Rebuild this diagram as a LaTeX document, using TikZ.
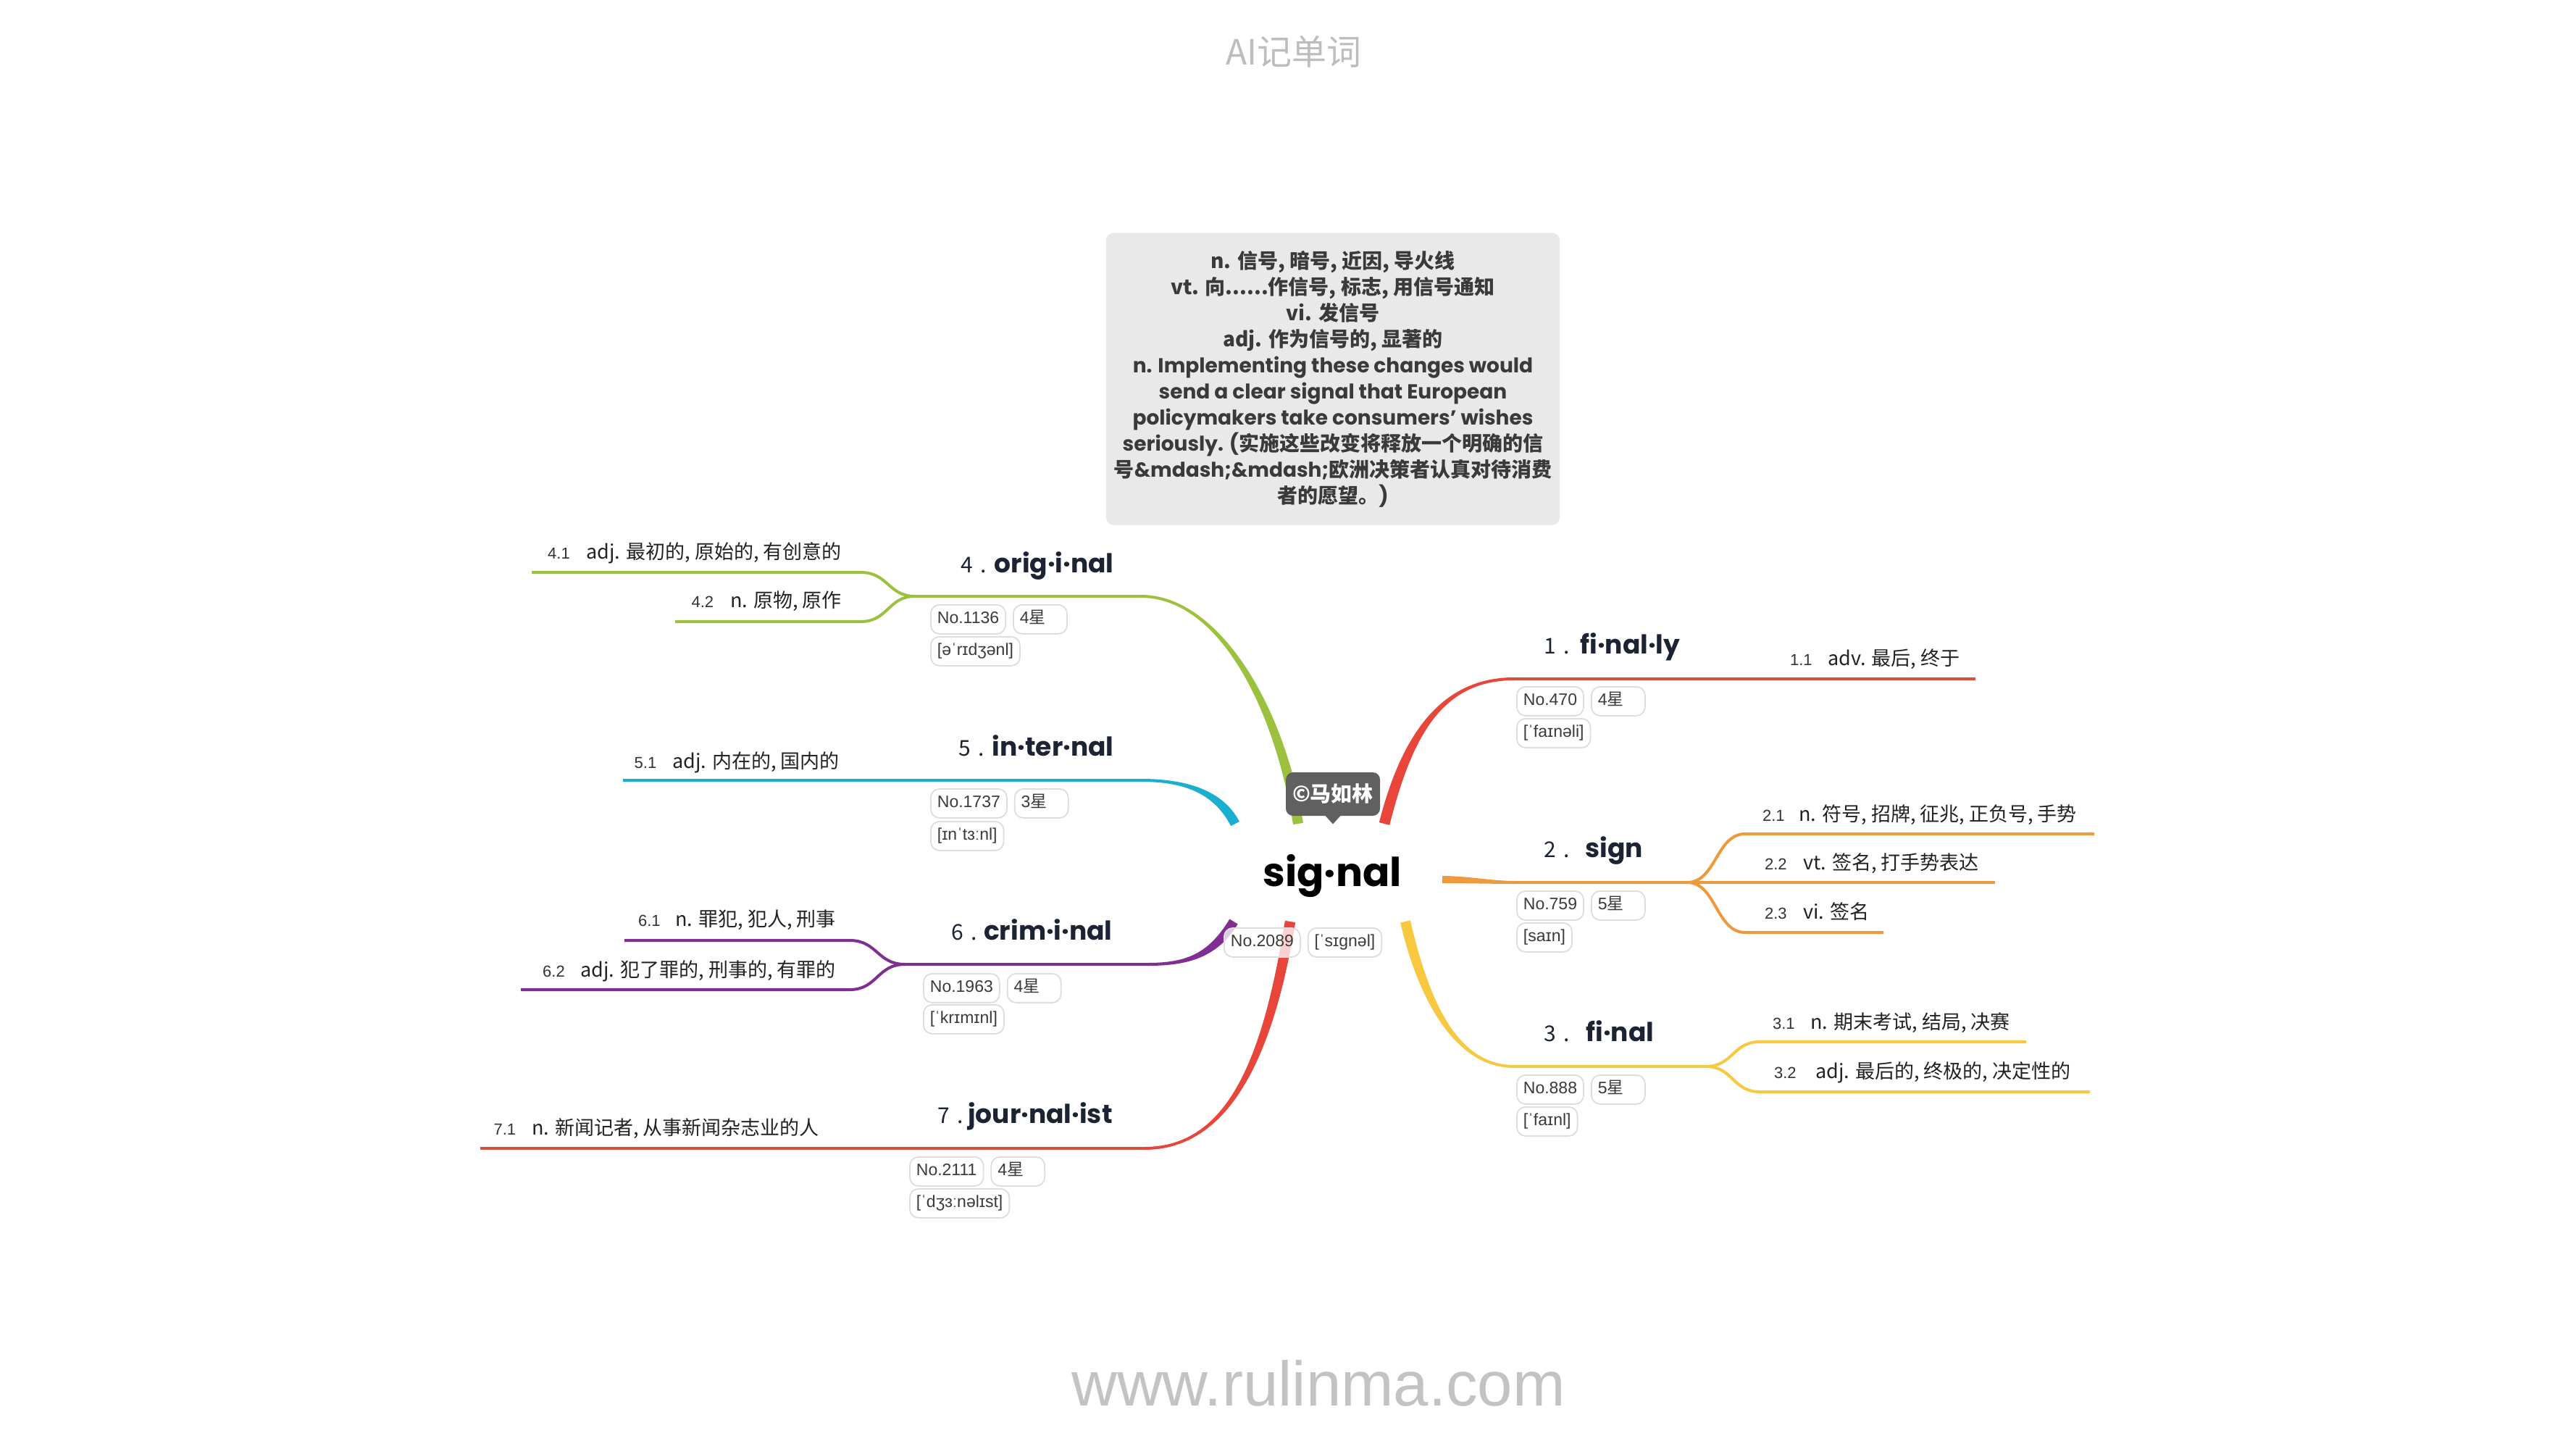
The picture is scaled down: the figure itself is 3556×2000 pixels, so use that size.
\documentclass[tikz,border=0pt]{standalone}
\usepackage{fontspec}
\setmainfont{Liberation Sans}
\newfontfamily\cjk{Noto Sans CJK SC}
\newfontfamily\pop{Poppins}
\usetikzlibrary{calc}
\definecolor{cG}{HTML}{9CC13F}
\definecolor{cC}{HTML}{1AAED0}
\definecolor{cP}{HTML}{7F2F91}
\definecolor{cR}{HTML}{E8453B}
\definecolor{cRh}{HTML}{D6503F}
\definecolor{cO}{HTML}{F0993B}
\definecolor{cY}{HTML}{F7C840}
\definecolor{boxc}{HTML}{E9E9E9}
\definecolor{callc}{HTML}{606060}
\definecolor{pillc}{HTML}{DDDDDD}
\definecolor{txtc}{HTML}{3A3A3A}
\definecolor{subc}{HTML}{222222}
\definecolor{numc}{HTML}{333333}
\definecolor{headc}{HTML}{1C2333}
\definecolor{titlec}{HTML}{BDBDBD}
\definecolor{wmc}{HTML}{C3C3C3}
\newcommand\brtaper[7]{%
  \fill[#1] ($#2!#6!90:#3$) .. controls ($#3!#6!-90:#2$) and ($#4!#7!90:#5$) .. ($#5!#7!-90:#4$)
    -- ($#5!#7!90:#4$) .. controls ($#4!#7!-90:#5$) and ($#3!#6!90:#2$) .. ($#2!#6!-90:#3$) -- cycle;}
\newcommand\zh[1]{{\cjk\bfseries #1}}
\begin{document}
\begin{tikzpicture}[x=0.5pt,y=-0.5pt,
  ln/.style={line width=2pt},
  pill/.style={draw=pillc, line width=0.9pt, fill=white, rounded corners=6pt,
    minimum height=20pt, inner xsep=4.5pt, inner ysep=0pt, text height=8.5pt, text depth=2.5pt,
    font=\fontsize{11.5}{12}\selectfont, text=txtc, anchor=north west},
  starpill/.style={pill, anchor=west, text width=28pt, align=left},
  subtext/.style={font=\cjk\fontsize{13.5}{14}\selectfont, text=subc, inner sep=0pt},
  subnum/.style={font=\fontsize{11}{12}\selectfont, text=numc, inner sep=0pt},
  headword/.style={font=\pop\bfseries\fontsize{18}{19}\selectfont, text=headc, inner sep=0pt},
  headnum/.style={font=\cjk\fontsize{15}{16}\selectfont, text=headc, inner sep=0pt}]
\useasboundingbox (0,0) rectangle (3556,2000);
\fill[white] (0,0) rectangle (3556,2000);

% ---------- coordinates ----------
\coordinate (c4) at (1792,1137); \coordinate (k4a) at (1765,970); \coordinate (k4b) at (1680,823);
\coordinate (h4) at (1575,823); \coordinate (j4) at (1263,823);
\coordinate (s41) at (1188,790); \coordinate (e41) at (734,790);
\coordinate (s42) at (1188,858); \coordinate (e42) at (932,858);

\coordinate (c5) at (1705,1137); \coordinate (k5a) at (1683,1095); \coordinate (k5b) at (1640,1077);
\coordinate (h5) at (1575,1077); \coordinate (e51) at (860,1077);

\coordinate (c6) at (1703,1272); \coordinate (k6a) at (1675,1318); \coordinate (k6b) at (1640,1331);
\coordinate (h6) at (1585,1331); \coordinate (j6) at (1249,1331);
\coordinate (s61) at (1173,1298); \coordinate (e61) at (862,1298);
\coordinate (s62) at (1173,1366); \coordinate (e62) at (719,1366);

\coordinate (c7) at (1781,1272); \coordinate (k7a) at (1752,1450); \coordinate (k7b) at (1700,1585);
\coordinate (h7) at (1580,1585); \coordinate (e71) at (663,1585);

\coordinate (c1) at (1911,1137); \coordinate (k1a) at (1942,1015); \coordinate (k1b) at (1990,937);
\coordinate (h1) at (2090,937); \coordinate (e11) at (2727,937);

\coordinate (c2) at (1991,1214); \coordinate (k2a) at (2025,1214); \coordinate (k2b) at (2060,1218);
\coordinate (h2) at (2092,1218); \coordinate (j2) at (2329,1218);
\coordinate (s21) at (2409,1151); \coordinate (e21) at (2891,1151);
\coordinate (e22) at (2754,1218);
\coordinate (s23) at (2409,1287); \coordinate (e23) at (2600,1287);

\coordinate (c3) at (1940,1272); \coordinate (k3a) at (1965,1380); \coordinate (k3b) at (2010,1472);
\coordinate (h3) at (2090,1472); \coordinate (j3) at (2355,1472);
\coordinate (s31) at (2429,1438); \coordinate (e31) at (2797,1438);
\coordinate (s32) at (2429,1507); \coordinate (e32) at (2885,1507);

% ---------- branches ----------
\brtaper{cG}{(c4)}{(k4a)}{(k4b)}{(h4)}{3.5pt}{1pt}
\draw[ln,cG] (h4) -- (j4);
\draw[ln,cG] (j4) .. controls (1226,823) and (1226,790) .. (s41) -- (e41);
\draw[ln,cG] (j4) .. controls (1226,823) and (1226,858) .. (s42) -- (e42);

\brtaper{cC}{(c5)}{(k5a)}{(k5b)}{(h5)}{3.3pt}{1pt}
\draw[ln,cC] (h5) -- (e51);

\brtaper{cP}{(c6)}{(k6a)}{(k6b)}{(h6)}{3.3pt}{1pt}
\draw[ln,cP] (h6) -- (j6);
\draw[ln,cP] (j6) .. controls (1211,1331) and (1211,1298) .. (s61) -- (e61);
\draw[ln,cP] (j6) .. controls (1211,1331) and (1211,1366) .. (s62) -- (e62);

\brtaper{cR}{(c7)}{(k7a)}{(k7b)}{(h7)}{3.6pt}{1pt}
\draw[ln,cRh] (h7) -- (e71);

\brtaper{cR}{(c1)}{(k1a)}{(k1b)}{(h1)}{3.7pt}{1pt}
\draw[ln,cRh] (h1) -- (e11);

\brtaper{cO}{(c2)}{(k2a)}{(k2b)}{(h2)}{2.5pt}{1pt}
\draw[ln,cO] (h2) -- (j2);
\draw[ln,cO] (j2) .. controls (2369,1218) and (2369,1151) .. (s21) -- (e21);
\draw[ln,cO] (j2) -- (e22);
\draw[ln,cO] (j2) .. controls (2369,1218) and (2369,1287) .. (s23) -- (e23);

\brtaper{cY}{(c3)}{(k3a)}{(k3b)}{(h3)}{3.5pt}{1pt}
\draw[ln,cY] (h3) -- (j3);
\draw[ln,cY] (j3) .. controls (2392,1472) and (2392,1438) .. (s31) -- (e31);
\draw[ln,cY] (j3) .. controls (2392,1472) and (2392,1507) .. (s32) -- (e32);

% ---------- sub texts (left) ----------
\node[subtext, anchor=east] (t41) at (1162,763) {adj. 最初的, 原始的, 有创意的};
\node[subnum, anchor=base east] (n41) at ($(t41.base west)+(-22,0)$) {4.1};
\node[subtext, anchor=east] (t42) at (1162,830) {n. 原物, 原作};
\node[subnum, anchor=base east] (n42) at ($(t42.base west)+(-22,0)$) {4.2};
\node[subtext, anchor=east] (t51) at (1159,1052) {adj. 内在的, 国内的};
\node[subnum, anchor=base east] (n51) at ($(t51.base west)+(-21,0)$) {5.1};
\node[subtext, anchor=east] (t61) at (1154,1270) {n. 罪犯, 犯人, 刑事};
\node[subnum, anchor=base east] (n61) at ($(t61.base west)+(-20,0)$) {6.1};
\node[subtext, anchor=east] (t62) at (1154,1340) {adj. 犯了罪的, 刑事的, 有罪的};
\node[subnum, anchor=base east] (n62) at ($(t62.base west)+(-21,0)$) {6.2};
\node[subtext, anchor=east] (t71) at (1131,1558) {n. 新闻记者, 从事新闻杂志业的人};
\node[subnum, anchor=base east] (n71) at ($(t71.base west)+(-21,0)$) {7.1};

% ---------- sub texts (right) ----------
\node[subtext, anchor=west] (t11) at (2523,910) {adv. 最后, 终于};
\node[subnum, anchor=base east] (n11) at ($(t11.base west)+(-21,0)$) {1.1};
\node[subtext, anchor=west] (t21) at (2483,1125) {n. 符号, 招牌, 征兆, 正负号, 手势};
\node[subnum, anchor=base east] (n21) at ($(t21.base west)+(-19,0)$) {2.1};
\node[subtext, anchor=west] (t22) at (2489,1192) {vt. 签名, 打手势表达};
\node[subnum, anchor=base east] (n22) at ($(t22.base west)+(-22,0)$) {2.2};
\node[subtext, anchor=west] (t23) at (2489,1258) {vi. 签名};
\node[subnum, anchor=base east] (n23) at ($(t23.base west)+(-22,0)$) {2.3};
\node[subtext, anchor=west] (t31) at (2499,1412) {n. 期末考试, 结局, 决赛};
\node[subnum, anchor=base east] (n31) at ($(t31.base west)+(-21,0)$) {3.1};
\node[subtext, anchor=west] (t32) at (2506,1480) {adj. 最后的, 终极的, 决定性的};
\node[subnum, anchor=base east] (n32) at ($(t32.base west)+(-26,0)$) {3.2};

% ---------- headings ----------
\node[headword, anchor=base east] (hw4) at (1538,790) {orig·i·nal};
\node[headnum, anchor=base west] (hn4) at (1326,790) {4\hspace{0.35em}.};
\node[headword, anchor=base east] (hw5) at (1538,1043) {in·ter·nal};
\node[headnum, anchor=base west] (hn5) at (1323,1043) {5\hspace{0.35em}.};
\node[headword, anchor=base east] (hw6) at (1536,1297) {crim·i·nal};
\node[headnum, anchor=base west] (hn6) at (1313,1297) {6\hspace{0.35em}.};
\node[headword, anchor=base east] (hw7) at (1536,1550) {jour·nal·ist};
\node[headnum, anchor=base west] (hn7) at (1294,1550) {7\hspace{0.35em}.};
\node[headnum, anchor=base west] (hn1) at (2131,902) {1\hspace{0.35em}.};
\node[headword, anchor=base west] (hw1) at (2181,902) {fi·nal·ly};
\node[headnum, anchor=base west] (hn2) at (2131,1183) {2\hspace{0.35em}.};
\node[headword, anchor=base west] (hw2) at (2188,1183) {sign};
\node[headnum, anchor=base west] (hn3) at (2131,1437) {3\hspace{0.35em}.};
\node[headword, anchor=base west] (hw3) at (2189,1437) {fi·nal};

% ---------- pills ----------
\node[pill] (p4a) at (1284,834) {No.1136};
\node[starpill] (p4b) at ($(p4a.east)+(9,0)$) {4{\cjk 星}};
\node[pill] (p4c) at (1284,878) {[əˈrɪdʒənl]};
\node[pill] (p5a) at (1284,1088) {No.1737};
\node[starpill] (p5b) at ($(p5a.east)+(9,0)$) {3{\cjk 星}};
\node[pill] (p5c) at (1284,1133) {[ɪnˈtɜːnl]};
\node[pill] (p6a) at (1274,1343) {No.1963};
\node[starpill] (p6b) at ($(p6a.east)+(9,0)$) {4{\cjk 星}};
\node[pill] (p6c) at (1274,1386) {[ˈkrɪmɪnl]};
\node[pill] (p7a) at (1255,1596) {No.2111};
\node[starpill] (p7b) at ($(p7a.east)+(9,0)$) {4{\cjk 星}};
\node[pill] (p7c) at (1255,1640) {[ˈdʒɜːnəlɪst]};
\node[pill] (p1a) at (2093,947) {No.470};
\node[starpill] (p1b) at ($(p1a.east)+(9,0)$) {4{\cjk 星}};
\node[pill] (p1c) at (2093,991) {[ˈfaɪnəli]};
\node[pill] (p2a) at (2093,1229) {No.759};
\node[starpill] (p2b) at ($(p2a.east)+(9,0)$) {5{\cjk 星}};
\node[pill] (p2c) at (2093,1273) {[saɪn]};
\node[pill] (p3a) at (2093,1483) {No.888};
\node[starpill] (p3b) at ($(p3a.east)+(9,0)$) {5{\cjk 星}};
\node[pill] (p3c) at (2093,1527) {[ˈfaɪnl]};

% ---------- centre ----------
\node[font=\pop\bfseries\fontsize{27.5}{28}\selectfont, text=black, anchor=base, inner sep=0pt] (sig) at (1839,1223) {sig·nal};
\node[pill, fill opacity=0.75, text opacity=1] (pc1) at (1689,1280) {No.2089};
\node[pill, anchor=west, fill opacity=0.75, text opacity=1] (pc2) at ($(pc1.east)+(9,0)$) {[ˈsɪgnəl]};
\node[fill=callc, rounded corners=5pt, minimum width=65pt, minimum height=30pt, inner sep=0pt,
  font=\cjk\bfseries\fontsize{14.5}{15}\selectfont, text=white] (cp) at (1840,1096) {©马如林};
\fill[callc] ($(cp.south)+(-11,-1)$) -- ($(cp.south)+(11,-1)$) -- ($(cp.south)+(0,11)$) -- cycle;

% ---------- note box ----------
\node[fill=boxc, rounded corners=5pt, minimum width=313pt, minimum height=201.5pt, inner sep=0pt,
  align=center, text=txtc, font=\pop\bfseries\fontsize{14}{18}\selectfont] (box) at (1840,523) {%
  \zh{n. 信号, 暗号, 近因, 导火线}\\
  \zh{vt. 向......作信号, 标志, 用信号通知}\\
  \zh{vi. 发信号}\\
  \zh{adj. 作为信号的, 显著的}\\
  n. Implementing these changes would\\
  send a clear signal that European\\
  policymakers take consumers’ wishes\\
  seriously. (\zh{实施这些改变将释放一个明确的信}\\
  \zh{号}\&mdash;\&mdash;\zh{欧洲决策者认真对待消费}\\
  \zh{者的愿望。})};

% ---------- title & watermark ----------
\node[font=\cjk\fontsize{24}{25}\selectfont, text=titlec, anchor=base, inner sep=0pt] (title) at (1786,90) {AI记单词};
\node[font=\fontsize{43.5}{44}\selectfont, text=wmc, anchor=base, inner sep=0pt] (wm) at (1820,1940) {www.rulinma.com};
\end{tikzpicture}
\end{document}
